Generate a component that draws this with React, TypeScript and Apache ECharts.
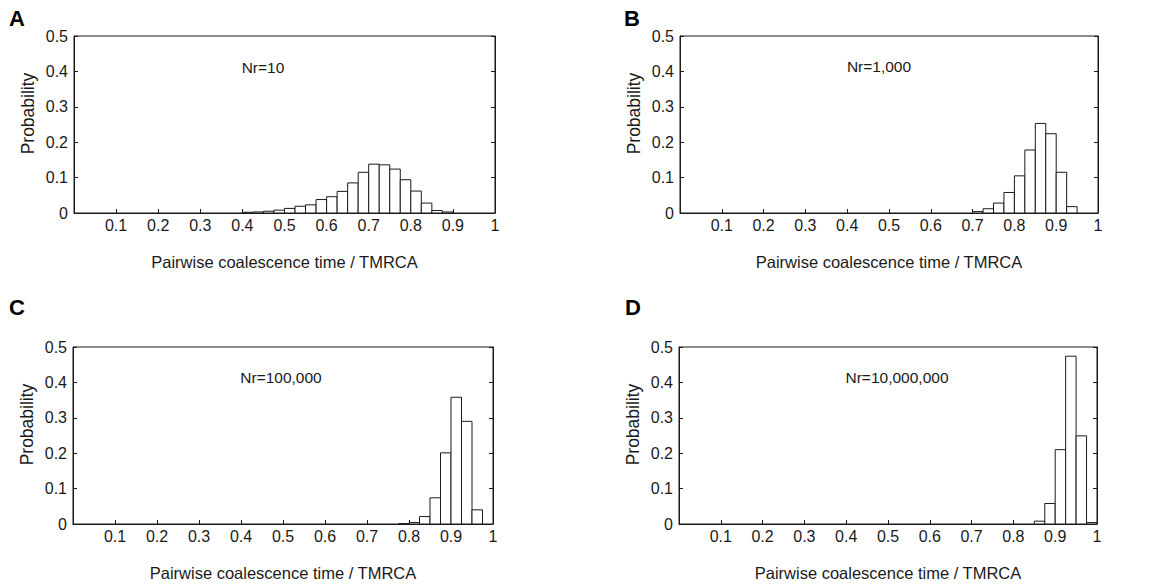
import React, { useEffect, useRef } from "react";
import * as echarts from "echarts";

const BIN = 0.025;
const panelLetters = ["A", "B", "C", "D"];
const panelNotes = ["Nr=10", "Nr=1,000", "Nr=100,000", "Nr=10,000,000"];

const startsA = [0.4, 0.425, 0.45, 0.475, 0.5, 0.525, 0.55, 0.575, 0.6, 0.625, 0.65, 0.675, 0.7, 0.725, 0.75, 0.775, 0.8, 0.825, 0.85, 0.875];
const probsA = [0.002, 0.003, 0.005, 0.008, 0.013, 0.019, 0.023, 0.038, 0.046, 0.061, 0.085, 0.115, 0.138, 0.136, 0.124, 0.094, 0.062, 0.028, 0.007, 0.003];

const startsB = [0.7, 0.725, 0.75, 0.775, 0.8, 0.825, 0.85, 0.875, 0.9, 0.925];
const probsB = [0.004, 0.012, 0.028, 0.058, 0.105, 0.178, 0.253, 0.224, 0.115, 0.018];

const startsC = [0.775, 0.8, 0.825, 0.85, 0.875, 0.9, 0.925, 0.95];
const probsC = [0.001, 0.004, 0.021, 0.074, 0.201, 0.358, 0.29, 0.04];

const startsD = [0.85, 0.875, 0.9, 0.925, 0.95, 0.975];
const probsD = [0.008, 0.058, 0.21, 0.474, 0.249, 0.004];

const FONT = "'Liberation Sans', Arial, Helvetica, sans-serif";
const INK = "#1a1a1a";

export default function App() {
  const ref = useRef<HTMLDivElement>(null);
  useEffect(() => {
    if (!ref.current) return;
    const chart = echarts.init(ref.current, null, { renderer: "svg" });

    const grids = [
      { left: 74, top: 36, width: 421, height: 177 },
      { left: 680, top: 36, width: 418, height: 177 },
      { left: 73, top: 347, width: 420, height: 177 },
      { left: 679, top: 347, width: 418, height: 177 },
    ];
    const letterPos = [
      [9, 18],
      [624, 18],
      [9, 307],
      [625, 307],
    ];
    const notePos = [
      [263, 67],
      [879, 66],
      [281, 377],
      [897, 377],
    ];
    const data = [
      [startsA, probsA],
      [startsB, probsB],
      [startsC, probsC],
      [startsD, probsD],
    ];

    const xAxes: any[] = [];
    const yAxes: any[] = [];
    const series: any[] = [];
    const graphics: any[] = [];

    grids.forEach((g, i) => {
      xAxes.push({
        type: "value",
        gridIndex: i,
        min: 0,
        max: 1,
        interval: 0.1,
        axisLine: { show: true, lineStyle: { color: INK, width: 1 } },
        axisTick: { show: true, inside: true, length: 4, lineStyle: { color: INK } },
        axisLabel: {
          show: true,
          margin: 4,
          color: INK,
          fontFamily: FONT,
          fontSize: 16,
          formatter: (v: number) => (v === 0 ? "" : String(Math.round(v * 10) / 10)),
        },
        splitLine: { show: false },
      });
      yAxes.push({
        type: "value",
        gridIndex: i,
        min: 0,
        max: 0.5,
        interval: 0.1,
        axisLine: { show: true, lineStyle: { color: INK, width: 1 } },
        axisTick: { show: true, inside: true, length: 4, lineStyle: { color: INK } },
        axisLabel: {
          show: true,
          margin: 6,
          color: INK,
          fontFamily: FONT,
          fontSize: 16,
          formatter: (v: number) => String(Math.round(v * 10) / 10),
        },
        splitLine: { show: false },
      });
      yAxes.push({
        type: "value",
        gridIndex: i,
        position: "right",
        min: 0,
        max: 0.5,
        interval: 0.1,
        axisLine: { show: true, lineStyle: { color: INK, width: 1 } },
        axisTick: { show: true, inside: true, length: 4, lineStyle: { color: INK } },
        axisLabel: { show: false },
        splitLine: { show: false },
      });

      const [starts, probs] = data[i];
      series.push({
        type: "custom",
        xAxisIndex: i,
        yAxisIndex: i * 2,
        data: (starts as number[]).map((s, k) => [s, (probs as number[])[k]]),
        encode: { x: 0, y: 1 },
        renderItem: (params: any, api: any) => {
          const x0 = api.value(0);
          const p = api.value(1);
          const tl = api.coord([x0, p]);
          const br = api.coord([x0 + BIN, 0]);
          return {
            type: "rect",
            shape: { x: tl[0], y: tl[1], width: br[0] - tl[0], height: br[1] - tl[1] },
            style: { fill: "#ffffff", stroke: INK, lineWidth: 1 },
          };
        },
        silent: true,
      });

      graphics.push({
        type: "text",
        x: letterPos[i][0],
        y: letterPos[i][1],
        style: {
          text: panelLetters[i],
          font: `bold 22px ${FONT}`,
          fill: "#000",
          align: "left",
          verticalAlign: "middle",
        },
      });
      graphics.push({
        type: "text",
        x: notePos[i][0],
        y: notePos[i][1],
        style: {
          text: panelNotes[i],
          font: `15.5px ${FONT}`,
          fill: INK,
          align: "center",
          verticalAlign: "middle",
        },
      });
      graphics.push({
        type: "text",
        x: g.left - 46,
        y: g.top + g.height / 2 - 11,
        rotation: Math.PI / 2,
        style: {
          text: "Probability",
          font: `17.5px ${FONT}`,
          fill: INK,
          align: "center",
          verticalAlign: "middle",
        },
      });
      graphics.push({
        type: "text",
        x: g.left + g.width / 2,
        y: g.top + g.height + 49,
        style: {
          text: "Pairwise coalescence time / TMRCA",
          font: `16.5px ${FONT}`,
          fill: INK,
          align: "center",
          verticalAlign: "middle",
        },
      });
    });

    chart.setOption({
      animation: false,
      backgroundColor: "#ffffff",
      grid: grids.map((g) => ({ ...g, show: true, borderColor: INK, borderWidth: 1, backgroundColor: "transparent" })),
      xAxis: xAxes,
      yAxis: yAxes,
      series,
      graphic: graphics,
    });
    return () => chart.dispose();
  }, []);

  return (
    <div
      ref={ref}
      style={{ position: "absolute", left: 0, top: 0, width: 1163, height: 586, background: "#fff" }}
    />
  );
}
